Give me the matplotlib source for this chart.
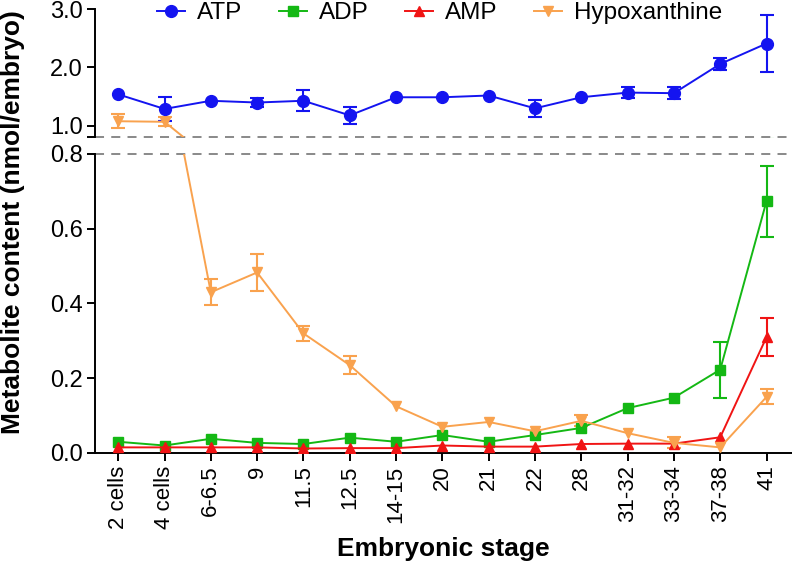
import numpy as np
import matplotlib
matplotlib.use('agg')
from matplotlib import pyplot as plt
from matplotlib.ticker import FormatStrFormatter

plt.rcParams['font.family'] = ['Liberation Sans', 'DejaVu Sans']

stages = ['2 cells', '4 cells', '6-6.5', '9', '11.5', '12.5', '14-15', '20',
          '21', '22', '28', '31-32', '33-34', '37-38', '41']

atp = [1.54, 1.29, 1.43, 1.40, 1.43, 1.18, 1.49, 1.49, 1.52, 1.30, 1.49, 1.57, 1.56, 2.06, 2.41]
atp_err = [0, 0.20, 0, 0.07, 0.18, 0.14, 0, 0, 0, 0.15, 0, 0.10, 0.10, 0.10, 0.49]

adp = [0.030, 0.020, 0.038, 0.027, 0.024, 0.041, 0.030, 0.048, 0.030, 0.048, 0.067,
       0.120, 0.148, 0.223, 0.674]
adp_err = [0, 0, 0, 0, 0, 0, 0, 0, 0, 0, 0, 0, 0, 0.075, 0.095]

amp = [0.015, 0.015, 0.015, 0.015, 0.012, 0.013, 0.013, 0.020, 0.017, 0.017, 0.024,
       0.025, 0.025, 0.042, 0.310]
amp_err = [0, 0, 0, 0, 0, 0, 0, 0, 0, 0, 0, 0, 0, 0, 0.05]

hyp = [1.08, 1.07, 0.43, 0.483, 0.32, 0.235, 0.125, 0.070, 0.083, 0.058, 0.086,
       0.053, 0.027, 0.015, 0.150]
hyp_err = [0.12, 0.08, 0.035, 0.05, 0.02, 0.025, 0, 0, 0, 0, 0.015, 0, 0.015, 0, 0.02]

series = [
    ('ATP', atp, atp_err, '#1414f0', 'o', 8.5),
    ('ADP', adp, adp_err, '#14b814', 's', 7.5),
    ('AMP', amp, amp_err, '#f01414', '^', 7.5),
    ('Hypoxanthine', hyp, hyp_err, '#f9a24e', 'v', 7.5),
]

fig = plt.figure(figsize=(7.92, 5.68), dpi=100)
ax_top = fig.add_axes([0.12, 0.7588, 0.88, 0.2253])
ax_bot = fig.add_axes([0.12, 0.2025, 0.88, 0.5264])

x = np.arange(len(stages))
handles = []
for ax in (ax_top, ax_bot):
    for name, vals, errs, col, mk, ms in series:
        vals = np.array(vals)
        errs = np.array(errs)
        m = errs > 0
        ax.errorbar(x[m], vals[m], yerr=errs[m], fmt='none', ecolor=col,
                    elinewidth=1.5, capsize=5, capthick=1.5, zorder=2)
        ln, = ax.plot(x, vals, color=col, marker=mk, markersize=ms, lw=1.4,
                      zorder=3, label=name)
        if ax is ax_top:
            handles.append(ln)

for ax in (ax_top, ax_bot):
    ax.set_xlim(-0.5, 14.55)
    ax.spines['top'].set_visible(False)
    ax.spines['right'].set_visible(False)
    ax.spines['left'].set_linewidth(1.4)
    ax.spines['bottom'].set_linewidth(1.4)
    ax.tick_params(direction='out', length=6, width=1.4, labelsize=16, pad=3)
    ax.tick_params(axis='y', labelsize=17)
    ax.yaxis.set_major_formatter(FormatStrFormatter('%.1f'))

ax_top.set_ylim(0.81, 3.0)
ax_top.set_yticks([1.0, 2.0, 3.0])
ax_top.set_yticks([0.81], minor=True)
ax_top.tick_params(axis='y', which='minor', length=6, width=1.4)
ax_top.spines['bottom'].set_visible(False)
ax_top.set_xticks([])
ax_top.axhline(0.81, color='#808080', lw=1.3, ls=(0, (5, 4)), clip_on=False)

ax_bot.set_ylim(0, 0.8)
ax_bot.set_yticks([0.0, 0.2, 0.4, 0.6, 0.8])
ax_bot.axhline(0.8, color='#808080', lw=1.3, ls=(0, (5, 4)), clip_on=False)
ax_bot.set_xticks(x)
ax_bot.set_xticklabels(stages, rotation=90, fontsize=16)
ax_bot.set_xlabel('Embryonic stage', fontsize=19, fontweight='bold', labelpad=6)

fig.text(0.016, 0.609, 'Metabolite content (nmol/embryo)', rotation=90,
         fontsize=19, fontweight='bold', ha='center', va='center')

fig.legend(handles=handles, loc='center', bbox_to_anchor=(0.555, 0.977), ncol=4,
           frameon=False, fontsize=17.5, handlelength=1.15, columnspacing=1.5,
           handletextpad=0.5, borderaxespad=0)

fig.savefig('out.png', dpi=100, facecolor='white')
